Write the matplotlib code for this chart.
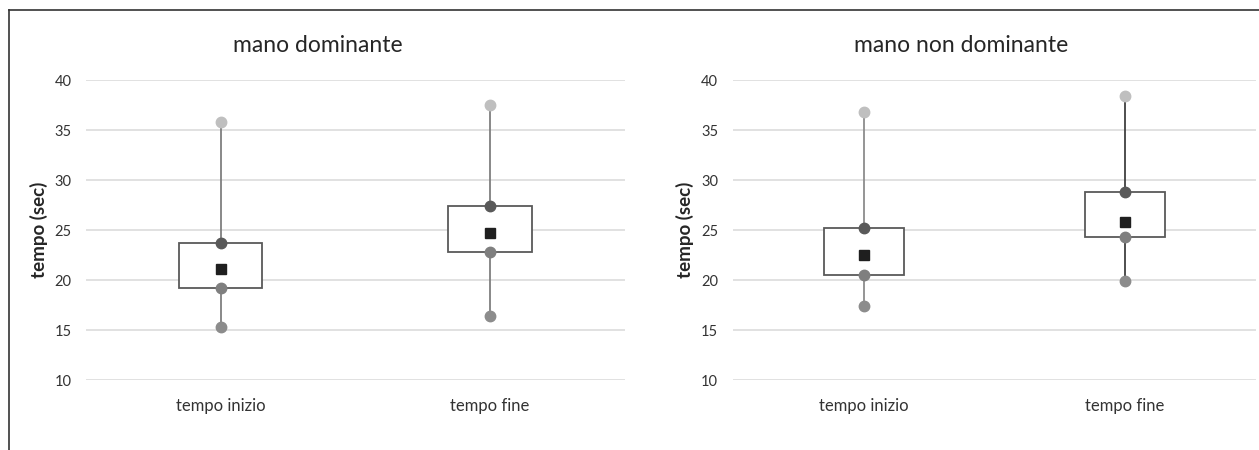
import numpy as np
import matplotlib.pyplot as plt
from matplotlib.lines import Line2D
from matplotlib.patches import Rectangle

plt.rcParams['font.family'] = ['Lato', 'DejaVu Sans']

categories = ['tempo inizio', 'tempo fine']
titles = ['mano dominante', 'mano non dominante']

# per panel: [tempo inizio, tempo fine]
dom_min = [15.3, 16.4]
dom_q1 = [19.2, 22.8]
dom_mean = [21.1, 24.7]
dom_q3 = [23.7, 27.4]
dom_max = [35.8, 37.5]

nondom_min = [17.4, 19.9]
nondom_q1 = [20.5, 24.3]
nondom_mean = [22.5, 25.8]
nondom_q3 = [25.2, 28.8]
nondom_max = [36.8, 38.4]

yticks = [10, 15, 20, 25, 30, 35, 40]

W, H = 1259, 450
fig = plt.figure(figsize=(W / 100, H / 100), dpi=100)

# frame lines (top and left)
fig.add_artist(Line2D([9 / W, 1], [1 - 10 / H, 1 - 10 / H], color='#333333', lw=1.2))
fig.add_artist(Line2D([9 / W, 9 / W], [0, 1 - 10 / H], color='#333333', lw=1.2))

panels = [
    dict(rect=[86 / W, 1 - 380 / H, 538.5 / W, 300 / H], title_x=318 / W, ylab_x=38.5 / W, pad=10.5,
         data=(dom_min, dom_q1, dom_mean, dom_q3, dom_max), whisk=['#7f7f7f', '#7f7f7f']),
    dict(rect=[733.5 / W, 1 - 380 / H, 522 / W, 300 / H], title_x=961 / W, ylab_x=685 / W, pad=11,
         data=(nondom_min, nondom_q1, nondom_mean, nondom_q3, nondom_max), whisk=['#8c8c8c', '#404040']),
]

for p, title in zip(panels, titles):
    ax = fig.add_axes(p['rect'])
    mn, q1, mean, q3, mx = p['data']
    x = np.arange(len(categories))
    bw = 0.31
    for i in x:
        ax.plot([i, i], [mn[i], mx[i]], color=p['whisk'][i], lw=1.3, zorder=2)
        ax.add_patch(Rectangle((i - bw / 2, q1[i]), bw, q3[i] - q1[i], facecolor='white',
                               edgecolor='#595959', lw=1.3, zorder=3))
    ax.plot(x, mx, 'o', color='#bfbfbf', ms=7.5, zorder=4)
    ax.plot(x, q3, 'o', color='#595959', ms=7.5, zorder=4)
    ax.plot(x, q1, 'o', color='#7f7f7f', ms=7.5, zorder=4)
    ax.plot(x, mn, 'o', color='#8c8c8c', ms=7.5, zorder=4)
    ax.plot(x, mean, 's', color='#1f1f1f', ms=7.7, zorder=5)

    ax.set_xlim(-0.5, 1.5)
    ax.set_ylim(10, 40)
    ax.set_yticks(yticks)
    ax.set_xticks(x)
    ax.set_xticklabels(categories, fontsize=12, color='#333333')
    ax.tick_params(axis='both', length=0)
    ax.tick_params(axis='x', pad=13)
    ax.tick_params(axis='y', labelsize=10.5, labelcolor='#333333', pad=p['pad'])
    ax.grid(axis='y', color='#d9d9d9', lw=1.1)
    ax.set_axisbelow(True)
    for s in ax.spines.values():
        s.set_visible(False)

    fig.text(p['title_x'], 1 - 45 / H, title, ha='center', va='center', fontsize=16.5, color='#262626')
    fig.text(p['ylab_x'], 1 - 230 / H, 'tempo (sec)', rotation=90, ha='center', va='center',
             fontsize=13.5, fontweight='bold', color='#262626')

fig.savefig('out.png', dpi=100)
